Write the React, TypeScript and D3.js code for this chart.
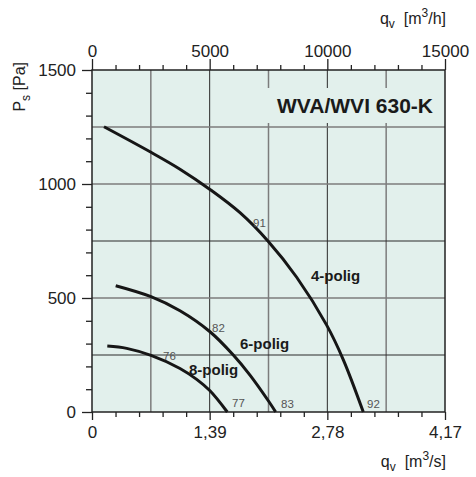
import React from "react";
import * as d3 from "d3";

// flow in m3/h, static pressure in Pa
const fourPoleQ = [510, 2507, 3739, 5014, 6289, 7493, 8697, 9972, 10680, 11528];
const fourPoleP = [1251, 1139, 1065, 976, 874, 748, 591, 381, 229, 0];
const sixPoleQ = [1007, 2507, 3739, 5014, 6004, 6713, 7521, 7805];
const sixPoleP = [554, 506, 444, 352, 250, 162, 45, 0];
const eightPoleQ = [650, 1474, 2507, 3739, 4448, 5014, 5749];
const eightPoleP = [289, 279, 248, 191, 143, 93, 0];

const curveNames = ["4-polig", "6-polig", "8-polig"];
const curveLabelQ = [9305, 6289, 4122];
const curveLabelP = [575, 276, 162];

const effText = ["91", "82", "76", "77", "83", "92"];
const effQ = [6841, 5099, 3017, 5949, 8031, 11685];
const effP = [811, 351, 228, 22, 18, 18];

const flowTicks = [0, 5000, 10000, 15000];
const flowMinor = [1000, 2000, 3000, 4000, 6000, 7000, 8000, 9000, 11000, 12000, 13000, 14000];
const secTicks = [0, 1.39, 2.78, 4.17];
const secLabels = ["0", "1,39", "2,78", "4,17"];
const pressTicks = [0, 500, 1000, 1500];
const pressMinor = [100, 200, 300, 400, 600, 700, 800, 900, 1100, 1200, 1300, 1400];
const gridQ = [2500, 5000, 7500, 10000, 12500];
const gridQDark = [5000, 10000];
const gridP = [250, 500, 750, 1000, 1250];
const gridPDark = [250, 750];

const title = "WVA/WVI 630-K";

export default function App() {
  const ref = React.useRef<SVGSVGElement | null>(null);

  React.useEffect(() => {
    if (!ref.current) return;
    const svg = d3.select(ref.current);
    svg.selectAll("*").remove();
    const m = { left: 92, right: 445, top: 70, bottom: 412 };
    const x = d3.scaleLinear().domain([0, 15000]).range([m.left, m.right]);
    const xs = d3.scaleLinear().domain([0, 4.17]).range([m.left, m.right]);
    const y = d3.scaleLinear().domain([0, 1500]).range([m.bottom, m.top]);
    const ink = "#222";

    svg
      .append("rect")
      .attr("x", m.left)
      .attr("y", m.top)
      .attr("width", m.right - m.left)
      .attr("height", m.bottom - m.top)
      .attr("fill", "#e2f0ec");

    // grid
    gridQ.forEach(q => {
      const dark = gridQDark.includes(q);
      svg
        .append("line")
        .attr("x1", x(q))
        .attr("x2", x(q))
        .attr("y1", m.top)
        .attr("y2", m.bottom)
        .attr("stroke", dark ? "#2a2a2a" : "#7c7c7c")
        .attr("stroke-width", dark ? 1 : 1.5);
    });
    gridP.forEach(p => {
      const dark = gridPDark.includes(p);
      svg
        .append("line")
        .attr("x1", m.left)
        .attr("x2", m.right)
        .attr("y1", y(p))
        .attr("y2", y(p))
        .attr("stroke", dark ? "#2a2a2a" : "#7c7c7c")
        .attr("stroke-width", dark ? 1 : 1.5);
    });

    // title box covers the grid
    svg
      .append("rect")
      .attr("x", 264)
      .attr("y", 88)
      .attr("width", m.right - 264 - 1)
      .attr("height", 35)
      .attr("fill", "#e2f0ec");
    svg
      .append("text")
      .attr("x", 433)
      .attr("y", 113)
      .attr("text-anchor", "end")
      .attr("font-size", 21)
      .attr("font-weight", "bold")
      .attr("fill", "#1a1a1a")
      .text(title);

    svg
      .append("rect")
      .attr("x", m.left)
      .attr("y", m.top)
      .attr("width", m.right - m.left)
      .attr("height", m.bottom - m.top)
      .attr("fill", "none")
      .attr("stroke", ink)
      .attr("stroke-width", 1.5);

    // axes
    const styleAxis = (g: d3.Selection<SVGGElement, unknown, null, undefined>) => {
      g.select(".domain").remove();
      g.selectAll("line").attr("stroke", ink).attr("stroke-width", 1.3);
      g.selectAll("text").attr("font-size", 17).attr("fill", ink).attr("font-family", null);
    };
    svg
      .append("g")
      .attr("transform", `translate(0,${m.top})`)
      .call(d3.axisTop(x).tickValues(flowMinor).tickSize(5).tickFormat(() => ""))
      .call(styleAxis);
    svg
      .append("g")
      .attr("transform", `translate(0,${m.top})`)
      .call(d3.axisTop(x).tickValues(flowTicks).tickSize(11).tickPadding(2).tickFormat(d => String(d)))
      .call(styleAxis);
    svg
      .append("g")
      .attr("transform", `translate(0,${m.bottom})`)
      .call(d3.axisBottom(x).tickValues(flowMinor).tickSize(5).tickFormat(() => ""))
      .call(styleAxis);
    svg
      .append("g")
      .attr("transform", `translate(0,${m.bottom})`)
      .call(
        d3
          .axisBottom(xs)
          .tickValues(secTicks)
          .tickSize(8)
          .tickPadding(6)
          .tickFormat((_, i) => secLabels[i])
      )
      .call(styleAxis);
    svg
      .append("g")
      .attr("transform", `translate(${m.left},0)`)
      .call(d3.axisLeft(y).tickValues(pressMinor).tickSize(6).tickFormat(() => ""))
      .call(styleAxis);
    svg
      .append("g")
      .attr("transform", `translate(${m.left},0)`)
      .call(d3.axisLeft(y).tickValues(pressTicks).tickSize(10).tickPadding(6).tickFormat(d => String(d)))
      .call(styleAxis);

    // curves
    const line = d3
      .line<[number, number]>()
      .x(d => x(d[0]))
      .y(d => y(d[1]))
      .curve(d3.curveCatmullRom.alpha(0.5));
    [
      [fourPoleQ, fourPoleP],
      [sixPoleQ, sixPoleP],
      [eightPoleQ, eightPoleP],
    ].forEach(([qs, ps]) => {
      svg
        .append("path")
        .datum(qs.map((q, i) => [q, ps[i]] as [number, number]))
        .attr("fill", "none")
        .attr("stroke", "#161616")
        .attr("stroke-width", 3)
        .attr("d", line);
    });

    curveNames.forEach((name, i) => {
      svg
        .append("text")
        .attr("x", x(curveLabelQ[i]))
        .attr("y", y(curveLabelP[i]))
        .attr("font-size", 15)
        .attr("font-weight", "bold")
        .attr("fill", "#1a1a1a")
        .text(name);
    });
    effText.forEach((t, i) => {
      svg
        .append("text")
        .attr("x", x(effQ[i]))
        .attr("y", y(effP[i]))
        .attr("font-size", 11.5)
        .attr("fill", "#555")
        .text(t);
    });

    // axis titles
    const unitTitle = (tx: number, ty: number, unit: string) => {
      const t = svg
        .append("text")
        .attr("x", tx)
        .attr("y", ty)
        .attr("text-anchor", "end")
        .attr("font-size", 16)
        .attr("fill", ink);
      t.append("tspan").text("q");
      t.append("tspan").attr("font-size", 12).attr("dy", 4).text("v");
      t.append("tspan").attr("dy", -4).text("\u00a0 [m");
      t.append("tspan").attr("font-size", 12).attr("dy", -7).text("3");
      t.append("tspan").attr("dy", 7).text(unit + "]");
    };
    unitTitle(446, 24, "/h");
    unitTitle(446, 467, "/s");

    const pt = svg
      .append("text")
      .attr("transform", "translate(25,62) rotate(-90)")
      .attr("text-anchor", "end")
      .attr("font-size", 16)
      .attr("fill", ink);
    pt.append("tspan").text("P");
    pt.append("tspan").attr("font-size", 12).attr("dy", 5).text("s");
    pt.append("tspan").attr("dy", -5).text("\u00a0[Pa]");
  }, []);

  return (
    <svg
      ref={ref}
      width={476}
      height={477}
      style={{ position: "absolute", left: 0, top: 0, fontFamily: "'Liberation Sans', Arial, sans-serif", background: "#fff" }}
    />
  );
}
